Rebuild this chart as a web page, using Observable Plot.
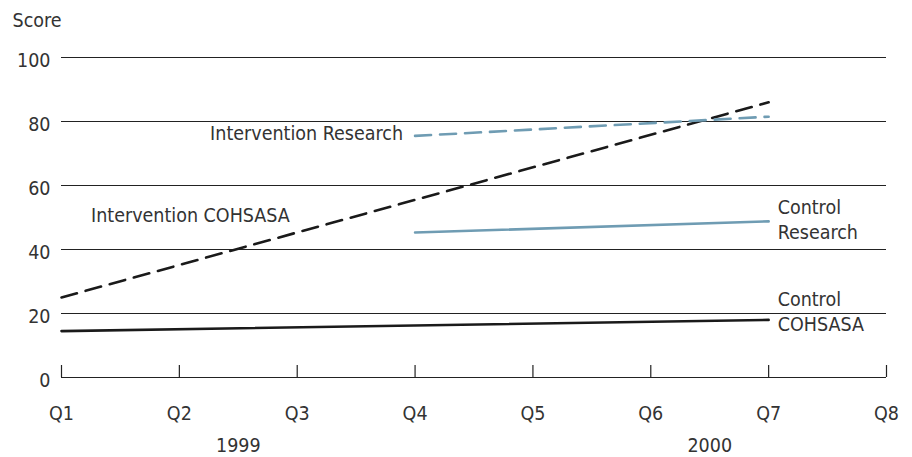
<!DOCTYPE html>
<html>
<head>
<meta charset="utf-8">
<script src="https://cdn.jsdelivr.net/npm/d3@7"></script>
<script src="https://cdn.jsdelivr.net/npm/@observablehq/plot@0.6"></script>
<style>
  html, body { margin: 0; padding: 0; background: #fff; }
</style>
</head>
<body>
<div id="chart"></div>
<script>
// Data
const quarters = [1, 2, 3, 4, 5, 6, 7, 8];
const quarterLabels = ["Q1", "Q2", "Q3", "Q4", "Q5", "Q6", "Q7", "Q8"];
const yearPositions = [2.5, 6.5];
const yearLabels = ["1999", "2000"];
const yTicks = [0, 20, 40, 60, 80, 100];

const interventionCohsasaX = [1, 7];
const interventionCohsasaY = [25, 86];
const controlCohsasaX = [1, 7];
const controlCohsasaY = [14.5, 18];
const interventionResearchX = [4, 7];
const interventionResearchY = [75.5, 81.5];
const controlResearchX = [4, 7];
const controlResearchY = [45.3, 48.8];

const toRows = (xs, ys) => xs.map((x, i) => ({x, y: ys[i]}));

const black = "#1a1a1a";
const blue = "#6f9cb3";
const ink = "#333333";
const font = "'DejaVu Sans Condensed', 'Liberation Sans Narrow', sans-serif";

const chart = Plot.plot({
  width: 912,
  height: 457,
  marginLeft: 61,
  marginRight: 26,
  marginTop: 57,
  marginBottom: 80,
  x: {domain: [1, 8]},
  y: {domain: [0, 100]},
  style: {fontFamily: font, fontSize: "19.5px", color: ink, background: "#fff"},
  marks: [
    Plot.ruleY(yTicks, {stroke: "#222", strokeWidth: 1.2}),
    Plot.tickX(quarters, {x: d => d, insetTop: 308, stroke: "#222", strokeWidth: 1.2}),
    Plot.axisY(yTicks, {tickSize: 0, tickPadding: 11, dy: 3, label: null, fontSize: 19.5}),
    Plot.axisX(quarters, {tickSize: 0, tickPadding: 29, tickFormat: d => quarterLabels[d - 1], label: null}),
    Plot.axisX(yearPositions, {tickSize: 0, tickPadding: 61, tickFormat: d => yearLabels[yearPositions.indexOf(d)], label: null}),
    Plot.text(["Score"], {frameAnchor: "top-left", dx: -49, dy: -44, textAnchor: "start", fill: ink}),
    Plot.line(toRows(interventionCohsasaX, interventionCohsasaY), {x: "x", y: "y", stroke: black, strokeWidth: 2.6, strokeDasharray: "16,9"}),
    Plot.line(toRows(controlCohsasaX, controlCohsasaY), {x: "x", y: "y", stroke: black, strokeWidth: 2.6}),
    Plot.line(toRows(interventionResearchX, interventionResearchY), {x: "x", y: "y", stroke: blue, strokeWidth: 2.6, strokeDasharray: "16,9"}),
    Plot.line(toRows(controlResearchX, controlResearchY), {x: "x", y: "y", stroke: blue, strokeWidth: 2.6}),
    Plot.text([{x: interventionResearchX[0], y: interventionResearchY[0], t: "Intervention Research"}], {x: "x", y: "y", text: "t", textAnchor: "end", dx: -12, dy: -2, fill: ink}),
    Plot.text([{x: 1.25, y: 50.6, t: "Intervention COHSASA"}], {x: "x", y: "y", text: "t", textAnchor: "start", fill: ink}),
    Plot.text([{x: controlResearchX[1], y: controlResearchY[1], t: "Control\nResearch"}], {x: "x", y: "y", text: "t", textAnchor: "start", dx: 9, dy: -3, lineHeight: 1.3, fill: ink}),
    Plot.text([{x: controlCohsasaX[1], y: 20, t: "Control\nCOHSASA"}], {x: "x", y: "y", text: "t", textAnchor: "start", dx: 9, dy: -3, lineHeight: 1.3, fill: ink})
  ]
});
document.getElementById("chart").appendChild(chart);
</script>
</body>
</html>
